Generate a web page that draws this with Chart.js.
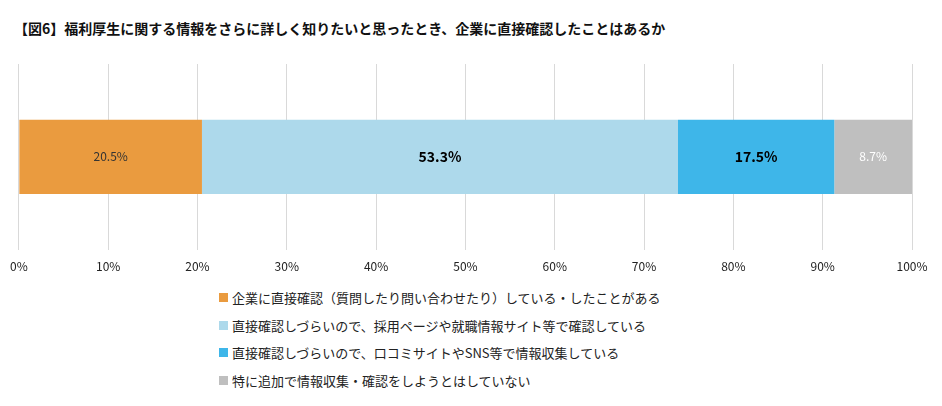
<!DOCTYPE html>
<html><head><meta charset="utf-8">
<script src="https://cdn.jsdelivr.net/npm/chart.js@4"></script>
<style>
body{margin:0;width:942px;height:406px;background:#fff;font-family:"Noto Sans CJK JP",sans-serif;position:relative;overflow:hidden}
#title{position:absolute;left:14px;top:18px;font-size:14px;font-weight:bold;color:#111}
#wrap{position:absolute;left:0;top:52px;width:942px;height:232px}
#legend{position:absolute;left:219px;top:284px;font-size:13px;color:#222}
#legend div{height:27.5px;display:flex;align-items:center}
#legend span.b{display:inline-block;width:9px;height:9px;margin-right:4px}
</style></head><body>
<div id="title">【図6】福利厚生に関する情報をさらに詳しく知りたいと思ったとき、企業に直接確認したことはあるか</div>
<div id="wrap"><canvas id="c"></canvas></div>
<div id="legend"></div>
<script>
const categories=[""];
const seriesNames=["企業に直接確認（質問したり問い合わせたり）している・したことがある","直接確認しづらいので、採用ページや就職情報サイト等で確認している","直接確認しづらいので、口コミサイトやSNS等で情報収集している","特に追加で情報収集・確認をしようとはしていない"];
const values=[20.5,53.3,17.5,8.7];
const colors=["#EA9B3F","#ADD9EB","#3EB6E9","#BFBFBF"];
const labelColors=["#333","#000","#000","#fff"];
const labelBold=[false,true,true,false];
const lg=document.getElementById('legend');
seriesNames.forEach((n,i)=>{const d=document.createElement('div');d.innerHTML='<span class="b" style="background:'+colors[i]+'"></span>'+n;lg.appendChild(d);});
const lblPlugin={id:'lbl',afterDatasetsDraw(ch){const ctx=ch.ctx;ch.data.datasets.forEach((ds,i)=>{const el=ch.getDatasetMeta(i).data[0];ctx.save();ctx.font=(labelBold[i]?'bold 14px':'12px')+' "Noto Sans CJK JP",sans-serif';ctx.fillStyle=labelColors[i];ctx.textAlign='center';ctx.textBaseline='middle';ctx.fillText(ds.data[0].toFixed(1)+'%',(el.x+el.base)/2,el.y);ctx.restore();});}};
new Chart(document.getElementById('c'),{type:'bar',
data:{labels:categories,datasets:values.map((v,i)=>({label:seriesNames[i],data:[v],backgroundColor:colors[i],barPercentage:0.4,categoryPercentage:1}))},
options:{indexAxis:'y',responsive:true,maintainAspectRatio:false,animation:false,
layout:{padding:{left:14,right:30,top:12}},
plugins:{legend:{display:false},tooltip:{enabled:false}},
scales:{x:{stacked:true,min:0,max:100,ticks:{stepSize:10,callback:v=>v+'%',color:'#222',font:{size:12,family:'"Noto Sans CJK JP",sans-serif'},padding:10},grid:{color:'#d9d9d9',drawTicks:false},border:{display:false}},
y:{stacked:true,display:false}}},plugins:[lblPlugin]});
</script></body></html>
